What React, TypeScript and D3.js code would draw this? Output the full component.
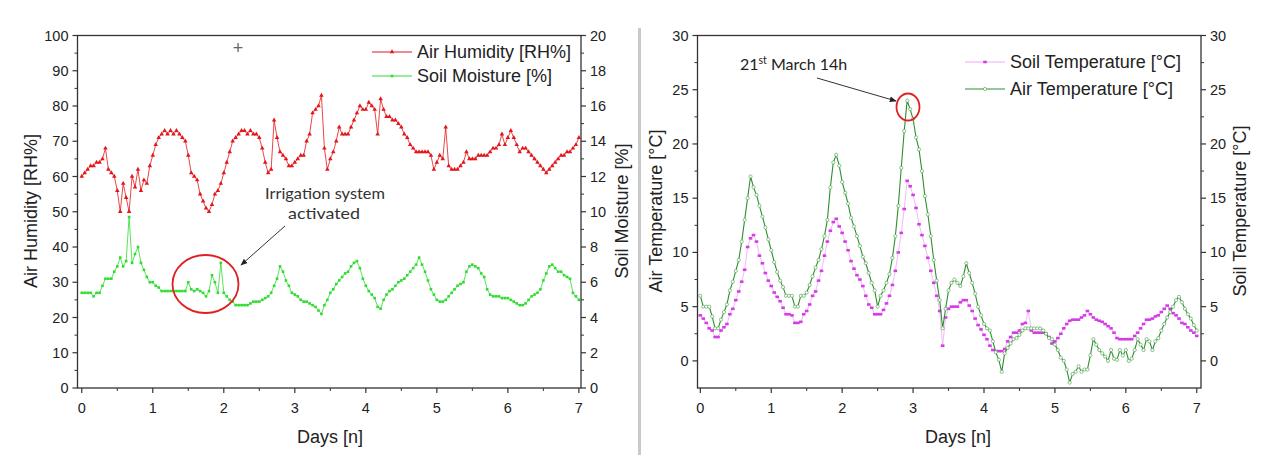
import React from "react";
import * as d3 from "d3";

// one sample per hour over the 7 days
const hours = d3.range(0, 169);
const days = hours.map((h) => h / 24);

// left panel, left axis
const airHumidity = [
  60, 61, 62, 63, 63, 64, 64, 65, 68, 62,
  61, 60, 56, 50, 58, 54, 50, 60, 57, 62,
  56, 59, 58, 63, 66, 69, 71, 72, 73, 72,
  73, 72, 73, 72, 71, 70, 66, 61, 60, 59,
  55, 53, 51, 50, 52, 55, 56, 58, 61, 64,
  67, 70, 71, 72, 73, 73, 72, 73, 72, 72,
  71, 68, 64, 61, 62, 76, 71, 67, 66, 65,
  63, 63, 64, 65, 66, 66, 70, 72, 78, 79,
  80, 83, 68, 62, 65, 67, 70, 74, 72, 72,
  72, 74, 76, 78, 80, 79, 79, 81, 80, 79,
  72, 82, 79, 77, 77, 76, 76, 75, 74, 72,
  71, 69, 68, 67, 67, 67, 67, 67, 66, 62,
  64, 66, 65, 74, 63, 62, 62, 62, 63, 64,
  67, 65, 65, 65, 66, 66, 66, 66, 67, 68,
  68, 69, 72, 69, 71, 73, 71, 69, 67, 68,
  68, 67, 66, 65, 64, 63, 62, 61, 62, 63,
  64, 65, 66, 66, 67, 67, 68, 69, 71,
];

// left panel, right axis
const soilMoisture = [
  5.4, 5.4, 5.4, 5.4, 5.2, 5.4, 5.4, 5.8, 6.2, 6.2,
  6.2, 6.6, 6.9, 7.4, 6.9, 7.2, 9.7, 7.1, 7.6, 8.0,
  7.1, 6.7, 6.3, 6.0, 6.0, 5.8, 5.7, 5.5, 5.5, 5.5,
  5.5, 5.5, 5.5, 5.5, 5.5, 5.5, 6.0, 5.6, 5.5, 5.6,
  5.5, 5.4, 5.2, 5.5, 6.4, 6.0, 5.4, 7.1, 5.4, 5.2,
  5.0, 4.9, 4.7, 4.7, 4.7, 4.7, 4.7, 4.8, 4.9, 4.9,
  4.9, 5.0, 5.1, 5.2, 5.4, 5.8, 6.2, 6.9, 6.6, 6.1,
  5.8, 5.4, 5.3, 5.2, 5.0, 4.9, 4.9, 4.8, 4.7, 4.6,
  4.4, 4.2, 4.7, 5.0, 5.4, 5.6, 5.9, 6.1, 6.3, 6.5,
  6.6, 6.9, 7.1, 7.2, 6.8, 6.2, 5.8, 5.5, 5.3, 5.1,
  4.6, 4.5, 5.0, 5.3, 5.5, 5.6, 5.8, 6.0, 6.1, 6.2,
  6.4, 6.6, 6.8, 7.0, 7.4, 7.0, 6.6, 6.1, 5.6, 5.3,
  5.0, 4.9, 4.9, 5.0, 5.2, 5.4, 5.6, 5.8, 5.9, 6.0,
  6.6, 6.9, 7.0, 6.9, 6.8, 6.5, 6.3, 5.6, 5.3, 5.2,
  5.2, 5.2, 5.1, 5.1, 5.1, 5.0, 4.9, 4.8, 4.7, 4.7,
  4.8, 5.0, 5.2, 5.3, 5.4, 5.6, 6.1, 6.5, 6.9, 7.0,
  6.8, 6.6, 6.6, 6.4, 6.3, 6.2, 5.4, 5.2, 5.0,
];

// right panel
const airTemperature = [
  6, 5, 5, 5, 4.1, 3, 3, 3.8, 4.5, 5.2,
  6.5, 7.3, 8.3, 9.3, 11, 13, 15, 17, 16, 15.3,
  14.3, 13.3, 12.3, 11.2, 10.2, 9.1, 8.2, 7.4, 6.8, 6,
  6, 6, 5, 5, 6, 6, 6.3, 7, 7.8, 8.6,
  9.3, 10.3, 11.5, 13, 16, 18.3, 19, 18, 16.5, 15.5,
  14.5, 13.2, 12.4, 11.5, 10.6, 9.6, 9, 8.1, 7.2, 6.5,
  5, 6, 6.5, 7.2, 8, 9.5, 11.5, 14.3, 17.8, 21.2,
  24, 23.2, 22.3, 20.6, 19.5, 17.5, 15.2, 13.5, 11.5, 9.3,
  7.4, 5.6, 3, 4.8, 6.5, 7.2, 7.5, 7.2, 6.9, 7.8,
  9, 8.1, 7.2, 6.2, 5, 4.2, 3.4, 3, 2.8, 1.8,
  0.8, 0.1, -1, 0.7, 1.2, 1.6, 2, 2.1, 2.4, 2.8,
  3, 3, 3, 3, 3, 3, 2.8, 2.5, 2.1, 2,
  1.5, 1, 0.3, 0, -0.8, -2, -1.2, -1, -0.5, -1,
  -0.8, -0.8, 0.5, 2, 1.5, 1, 0.7, 0.4, 0, 1,
  0.2, 0.1, 1, 0.5, 1, 0, 0.2, 1, 2, 1.5,
  1, 2, 1.8, 1, 1.8, 2.1, 2.8, 3.4, 4, 4.5,
  5, 5.6, 5.9, 5.4, 4.8, 4.3, 3.9, 3.3, 2.8,
];

const soilTemperature = [
  4.2, 3.9, 3.5, 3.0, 2.8, 2.2, 2.2, 2.8, 3.1, 3.4,
  4.3, 4.8, 5.6, 6.4, 7.3, 8.4, 10.5, 11.3, 11.6, 11.0,
  9.7, 9.0, 8.1, 7.4, 6.9, 6.3, 5.9, 5.5, 4.9, 4.3,
  4.3, 4.2, 3.5, 3.5, 3.6, 4.3, 4.6, 5.2, 6.0, 6.4,
  7.4, 8.3, 9.7, 11.0, 12.0, 12.8, 13.1, 12.4, 11.8, 11.0,
  10.2, 9.2, 8.5, 7.9, 7.5, 6.9, 6.0, 5.2, 4.9, 4.3,
  4.3, 4.3, 4.7, 5.3, 6.0, 7.0, 8.3, 10.0, 11.8, 14.0,
  16.6, 16.1, 15.3, 14.1, 12.6, 11.6, 10.6, 9.5, 8.3, 7.2,
  6.0, 4.6, 1.4, 4.0, 4.8, 5.0, 5.0, 5.0, 5.4, 5.6,
  5.6, 5.1, 4.6, 3.9, 3.3, 2.9, 2.4, 2.0, 1.4, 1.0,
  0.9, 0.9, 0.9, 1.1, 1.8, 2.2, 2.6, 2.6, 2.8, 3.4,
  3.5, 4.6, 2.8, 2.6, 2.6, 2.6, 2.6, 2.5, 2.2, 1.6,
  1.8, 2.1, 2.5, 3.0, 3.4, 3.7, 3.8, 3.8, 3.8, 4.0,
  4.2, 4.6, 4.3, 4.0, 3.8, 3.7, 3.6, 3.4, 3.2, 3.0,
  2.6, 2.1, 2.0, 2.0, 2.0, 2.0, 2.0, 2.3, 2.6, 3.0,
  3.4, 3.8, 3.8, 3.9, 4.1, 4.2, 4.5, 4.8, 5.1, 4.8,
  4.4, 4.2, 3.9, 3.5, 3.4, 3.1, 2.8, 2.6, 2.3,
];

const dayTicks = [0, 1, 2, 3, 4, 5, 6, 7];
const humidityTicks = [0, 10, 20, 30, 40, 50, 60, 70, 80, 90, 100];
const moistureTicks = [0, 2, 4, 6, 8, 10, 12, 14, 16, 18, 20];
const temperatureTicks = [0, 5, 10, 15, 20, 25, 30];

const AXIS = "#333";
const TXT = "#222";
const FONT = "Arial, 'Liberation Sans', sans-serif";
const NOTE_FONT = "Lato, 'Open Sans', sans-serif";

const RED = "#e3161c";
const LIME = "#2fdc2f";
const DKGREEN = "#2f8f2f";
const MAGENTA = "#d43de6";

type Lin = d3.ScaleLinear<number, number>;

function YTicks({ scale, majors, minors, x, side }: {
  scale: Lin; majors: number[]; minors: number[]; x: number; side: -1 | 1;
}) {
  return (
    <g>
      {minors.map((v) => (
        <line key={"m" + v} x1={x} x2={x + side * 3} y1={scale(v)} y2={scale(v)} stroke={AXIS} strokeWidth={1} />
      ))}
      {majors.map((v) => (
        <g key={v}>
          <line x1={x} x2={x + side * 5} y1={scale(v)} y2={scale(v)} stroke={AXIS} strokeWidth={1.2} />
          <text
            x={x + side * 9}
            y={scale(v)}
            dy="0.35em"
            textAnchor={side < 0 ? "end" : "start"}
            fontSize={14.5}
            fill={TXT}
            fontFamily={FONT}
          >
            {v}
          </text>
        </g>
      ))}
    </g>
  );
}

function XTicks({ scale, y }: { scale: Lin; y: number }) {
  const minors = dayTicks.slice(0, -1).map((d) => d + 0.5);
  return (
    <g>
      {minors.map((v) => (
        <line key={"m" + v} x1={scale(v)} x2={scale(v)} y1={y} y2={y + 3} stroke={AXIS} strokeWidth={1} />
      ))}
      {dayTicks.map((v) => (
        <g key={v}>
          <line x1={scale(v)} x2={scale(v)} y1={y} y2={y + 5} stroke={AXIS} strokeWidth={1.2} />
          <text x={scale(v)} y={y + 25} textAnchor="middle" fontSize={14.5} fill={TXT} fontFamily={FONT}>
            {v}
          </text>
        </g>
      ))}
    </g>
  );
}

function Series({ x, y, values, line, lineWidth, marker }: {
  x: Lin; y: Lin; values: number[]; line: string; lineWidth: number;
  marker: (px: number, py: number, i: number) => React.ReactNode;
}) {
  const gen = d3.line<number>().x((_, i) => x(days[i])).y((v) => y(v));
  return (
    <g>
      <path d={gen(values) || ""} fill="none" stroke={line} strokeWidth={lineWidth} />
      {values.map((v, i) => marker(x(days[i]), y(v), i))}
    </g>
  );
}

const tri = d3.symbol(d3.symbolTriangle, 9)() || "";

const redMark = (px: number, py: number, i: number) => (
  <path key={i} d={tri} transform={`translate(${px},${py})`} fill={RED} />
);
const limeMark = (px: number, py: number, i: number) => (
  <rect key={i} x={px - 1.3} y={py - 1.3} width={2.6} height={2.6} fill={LIME} />
);
const dkMark = (px: number, py: number, i: number) => (
  <circle key={i} cx={px} cy={py} r={1.6} fill="#fff" stroke="#5aa85a" strokeWidth={0.7} />
);
const magMark = (px: number, py: number, i: number) => (
  <rect key={i} x={px - 1.8} y={py - 1.3} width={3.6} height={2.6} fill={MAGENTA} />
);

function Frame({ x0, x1, top, bottom }: { x0: number; x1: number; top: number; bottom: number }) {
  return <rect x={x0} y={top} width={x1 - x0} height={bottom - top} fill="none" stroke={AXIS} strokeWidth={1.3} />;
}

function LegendRow({ x, y, color, label, marker }: {
  x: number; y: number; color: string; label: string; marker: (px: number, py: number, i: number) => React.ReactNode;
}) {
  return (
    <g>
      <line x1={x} x2={x + 40} y1={y} y2={y} stroke={color} strokeWidth={1} />
      {marker(x + 20, y, 0)}
      <text x={x + 45} y={y} dy="0.36em" fontSize={18} fill={TXT} fontFamily={FONT}>
        {label}
      </text>
    </g>
  );
}

export default function App() {
  const top = 35.5;
  const bottom = 388;

  // left panel
  const lx = d3.scaleLinear().domain([-0.06, 7.03]).range([77.5, 581]);
  const ly = d3.scaleLinear().domain([0, 100]).range([bottom, top]);
  const ly2 = d3.scaleLinear().domain([0, 20]).range([bottom, top]);

  // right panel
  const rx = d3.scaleLinear().domain([-0.04, 7.06]).range([697.5, 1201]);
  const ry = d3.scaleLinear().domain([-2.5, 30]).range([bottom, top]);

  const humMinor = humidityTicks.slice(0, -1).map((v) => v + 5);
  const moistMinor = moistureTicks.slice(0, -1).map((v) => v + 1);
  const tempMinor = temperatureTicks.slice(0, -1).map((v) => v + 2.5);

  return (
    <svg
      width={1269}
      height={455}
      style={{ position: "absolute", left: 0, top: 0, background: "#fff" }}
    >
      <rect x={0} y={0} width={1269} height={455} fill="#fff" />
      <rect x={638} y={28} width={3} height={427} fill="#c9c9c9" />

      {/* ---------- left panel ---------- */}
      <Series x={lx} y={ly} values={airHumidity} line={RED} lineWidth={0.8} marker={redMark} />
      <Series x={lx} y={ly2} values={soilMoisture} line={LIME} lineWidth={0.8} marker={limeMark} />
      <Frame x0={lx.range()[0]} x1={lx.range()[1]} top={top} bottom={bottom} />
      <YTicks scale={ly} majors={humidityTicks} minors={humMinor} x={lx.range()[0]} side={-1} />
      <YTicks scale={ly2} majors={moistureTicks} minors={moistMinor} x={lx.range()[1]} side={1} />
      <XTicks scale={lx} y={bottom} />
      <text x={330} y={443} textAnchor="middle" fontSize={18} fill={TXT} fontFamily={FONT}>Days [n]</text>
      <text transform="translate(37,211) rotate(-90)" textAnchor="middle" fontSize={18} fill={TXT} fontFamily={FONT}>
        Air Humidity [RH%]
      </text>
      <text transform="translate(628,211) rotate(-90)" textAnchor="middle" fontSize={18} fill={TXT} fontFamily={FONT}>
        Soil Moisture [%]
      </text>
      <LegendRow x={372} y={52} color={RED} label="Air Humidity [RH%]" marker={redMark} />
      <LegendRow x={372} y={76} color={LIME} label="Soil Moisture [%]" marker={limeMark} />
      <text x={238} y={48} dy="0.35em" textAnchor="middle" fontSize={18} fill="#666" fontFamily={FONT}>+</text>

      <text x={325} y={199} textAnchor="middle" fontSize={16} fill="#333" fontFamily={NOTE_FONT} textLength={120} lengthAdjust="spacingAndGlyphs">
        Irrigation system
      </text>
      <text x={324} y={219} textAnchor="middle" fontSize={16} fill="#333" fontFamily={NOTE_FONT} textLength={72} lengthAdjust="spacingAndGlyphs">
        activated
      </text>
      <defs>
        <marker id="arr" viewBox="0 0 10 10" refX={9} refY={5} markerWidth={7} markerHeight={7} orient="auto">
          <path d="M0,1 L10,5 L0,9 z" fill="#222" />
        </marker>
      </defs>
      <line x1={285} y1={226} x2={241} y2={265} stroke="#333" strokeWidth={1} markerEnd="url(#arr)" />
      <ellipse cx={205.5} cy={284} rx={33} ry={29} fill="none" stroke="#e02020" strokeWidth={1.8} />

      {/* ---------- right panel ---------- */}
      <Series x={rx} y={ry} values={soilTemperature} line="#f0a6f6" lineWidth={0.8} marker={magMark} />
      <Series x={rx} y={ry} values={airTemperature} line={DKGREEN} lineWidth={1.1} marker={dkMark} />
      <Frame x0={rx.range()[0]} x1={rx.range()[1]} top={top} bottom={bottom} />
      <YTicks scale={ry} majors={temperatureTicks} minors={tempMinor} x={rx.range()[0]} side={-1} />
      <YTicks scale={ry} majors={temperatureTicks} minors={tempMinor} x={rx.range()[1]} side={1} />
      <XTicks scale={rx} y={bottom} />
      <text x={958} y={443} textAnchor="middle" fontSize={18} fill={TXT} fontFamily={FONT}>Days [n]</text>
      <text transform="translate(662,211) rotate(-90)" textAnchor="middle" fontSize={18} fill={TXT} fontFamily={FONT}>
        Air Temperature [°C]
      </text>
      <text transform="translate(1246,211) rotate(-90)" textAnchor="middle" fontSize={18} fill={TXT} fontFamily={FONT}>
        Soil Temperature [°C]
      </text>
      <LegendRow x={965} y={62} color="#f0a6f6" label="Soil Temperature [°C]" marker={magMark} />
      <LegendRow x={965} y={89} color={DKGREEN} label="Air Temperature [°C]" marker={dkMark} />

      <text x={740} y={70} fontSize={16} fill="#222" fontFamily={NOTE_FONT}>
        21<tspan fontSize={10.5} dy={-6}>st</tspan>
        <tspan dy={6}> March 14h</tspan>
      </text>
      <line x1={817} y1={78} x2={896} y2={101} stroke="#333" strokeWidth={1} markerEnd="url(#arr)" />
      <ellipse cx={908} cy={107} rx={11.5} ry={13.5} fill="none" stroke="#e02020" strokeWidth={1.8} />
    </svg>
  );
}
